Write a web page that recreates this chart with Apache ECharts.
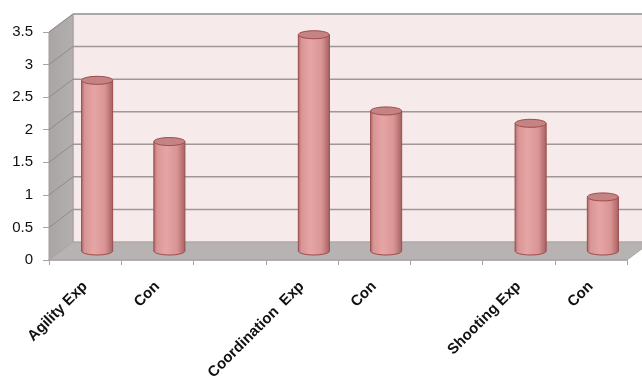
<!DOCTYPE html>
<html>
<head>
<meta charset="utf-8">
<script src="https://cdn.jsdelivr.net/npm/echarts@6/dist/echarts.min.js"></script>
<style>
  html, body { margin: 0; padding: 0; background: #ffffff; }
  #chart { width: 642px; height: 386px; }
</style>
</head>
<body>
<div id="chart"></div>
<script>
// Categories along the floor (blank slots separate the three groups)
const categories = ['Agility Exp', 'Con', '', 'Coordination  Exp', 'Con', '', 'Shooting Exp', 'Con'];
// Mean scores per category
const scores = [2.62, 1.68, null, 3.32, 2.15, null, 1.96, 0.83];
// Value-axis tick values
const yTicks = [0, 0.5, 1, 1.5, 2, 2.5, 3, 3.5];

// Depth of the pseudo-3D box (back wall offset from the front plane)
const DEPTH_X = 24;
const DEPTH_Y = -18;

const chart = echarts.init(document.getElementById('chart'), null, { renderer: 'canvas' });

function renderWalls(params, api) {
  const nCat = categories.length;
  const yMin = yTicks[0];
  const yMax = yTicks[yTicks.length - 1];
  const bl = api.coord([0, yMin]);
  const halfBand = api.size([1, 0])[0] / 2;
  const x0 = bl[0] - halfBand;
  const x1 = api.coord([nCat - 1, yMin])[0] + halfBand;
  const y0 = bl[1];
  const yTop = api.coord([0, yMax])[1];
  const children = [];

  // back wall
  children.push({
    type: 'polygon',
    shape: { points: [[x0 + DEPTH_X, yTop + DEPTH_Y], [x1 + DEPTH_X, yTop + DEPTH_Y], [x1 + DEPTH_X, y0 + DEPTH_Y], [x0 + DEPTH_X, y0 + DEPTH_Y]] },
    style: { fill: '#f6eaeb', stroke: '#b4acac', lineWidth: 1 }
  });
  // side wall
  children.push({
    type: 'polygon',
    shape: { points: [[x0, y0], [x0, yTop], [x0 + DEPTH_X, yTop + DEPTH_Y], [x0 + DEPTH_X, y0 + DEPTH_Y]] },
    style: {
      fill: new echarts.graphic.LinearGradient(0, 0, 1, 0, [
        { offset: 0, color: '#a9a5a4' },
        { offset: 1, color: '#b3afae' }
      ]),
      stroke: '#a29e9d', lineWidth: 1
    }
  });
  // gridlines on back wall and side wall
  yTicks.forEach(function (t) {
    if (t === yMin) return;
    const y = api.coord([0, t])[1];
    children.push({
      type: 'line',
      shape: { x1: x0 + DEPTH_X, y1: y + DEPTH_Y, x2: x1 + DEPTH_X, y2: y + DEPTH_Y },
      style: { stroke: '#9e9898', lineWidth: 1.5 }
    });
    children.push({
      type: 'line',
      shape: { x1: x0, y1: y, x2: x0 + DEPTH_X, y2: y + DEPTH_Y },
      style: { stroke: '#8f8b8a', lineWidth: 1 }
    });
  });
  // floor
  children.push({
    type: 'polygon',
    shape: { points: [[x0, y0], [x1, y0], [x1 + DEPTH_X, y0 + DEPTH_Y], [x0 + DEPTH_X, y0 + DEPTH_Y]] },
    style: { fill: '#b7b3b2', stroke: '#aaa6a5', lineWidth: 1 }
  });
  return { type: 'group', children: children };
}

function renderCylinder(params, api) {
  const v = api.value(1);
  if (v == null || isNaN(v)) return null;
  const cat = api.value(0);
  const top = api.coord([cat, v]);
  const base = api.coord([cat, 0]);
  const cx = top[0] + DEPTH_X / 2;
  const yTop = top[1] + DEPTH_Y / 2;
  const yBase = base[1] + DEPTH_Y / 2;
  const w = api.size([1, 0])[0] * 0.43;
  const rx = w / 2;
  const ry = 4;
  const bodyFill = new echarts.graphic.LinearGradient(0, 0, 1, 0, [
    { offset: 0, color: '#b06a6a' },
    { offset: 0.1, color: '#d99595' },
    { offset: 0.4, color: '#e6a5a5' },
    { offset: 0.75, color: '#d99494' },
    { offset: 1, color: '#a86262' }
  ]);
  return {
    type: 'group',
    children: [
      {
        type: 'ellipse',
        shape: { cx: cx, cy: yBase, rx: rx, ry: ry },
        style: { fill: bodyFill, stroke: '#9c4c4c', lineWidth: 1 }
      },
      {
        type: 'rect',
        shape: { x: cx - rx, y: yTop, width: w, height: yBase - yTop },
        style: { fill: bodyFill }
      },
      {
        type: 'line',
        shape: { x1: cx - rx, y1: yTop, x2: cx - rx, y2: yBase },
        style: { stroke: '#9c4c4c', lineWidth: 1 }
      },
      {
        type: 'line',
        shape: { x1: cx + rx, y1: yTop, x2: cx + rx, y2: yBase },
        style: { stroke: '#9c4c4c', lineWidth: 1 }
      },
      {
        type: 'ellipse',
        shape: { cx: cx, cy: yTop, rx: rx, ry: ry },
        style: { fill: '#c48484', stroke: '#a24a4a', lineWidth: 1 }
      }
    ]
  };
}

chart.setOption({
  animation: false,
  backgroundColor: '#ffffff',
  grid: { left: 49, right: 15, top: 32, bottom: 126, containLabel: false },
  xAxis: {
    type: 'category',
    data: categories,
    boundaryGap: true,
    axisLine: { show: true, lineStyle: { color: '#a8a4a4', width: 1.5 } },
    axisTick: { show: true, length: 5, lineStyle: { color: '#a8a4a4' } },
    axisLabel: {
      interval: 0,
      rotate: 45,
      margin: 24,
      color: '#111111',
      fontFamily: 'Liberation Sans, Arial, sans-serif',
      fontWeight: 'bold',
      fontSize: 15
    },
    splitLine: { show: false }
  },
  yAxis: {
    type: 'value',
    min: 0,
    max: 3.5,
    interval: 0.5,
    axisLine: { show: false },
    axisTick: { show: true, length: 6, lineStyle: { color: '#a8a4a4' } },
    axisLabel: {
      margin: 16,
      color: '#111111',
      fontFamily: 'Liberation Sans, Arial, sans-serif',
      fontSize: 15
    },
    splitLine: { show: false }
  },
  series: [
    {
      type: 'custom',
      name: 'walls',
      renderItem: renderWalls,
      data: [[0, 0]],
      silent: true,
      z: 0
    },
    {
      type: 'custom',
      name: 'scores',
      renderItem: renderCylinder,
      data: scores.map(function (v, i) { return [i, v]; }),
      encode: { x: 0, y: 1 },
      z: 3
    }
  ]
});
</script>
</body>
</html>
